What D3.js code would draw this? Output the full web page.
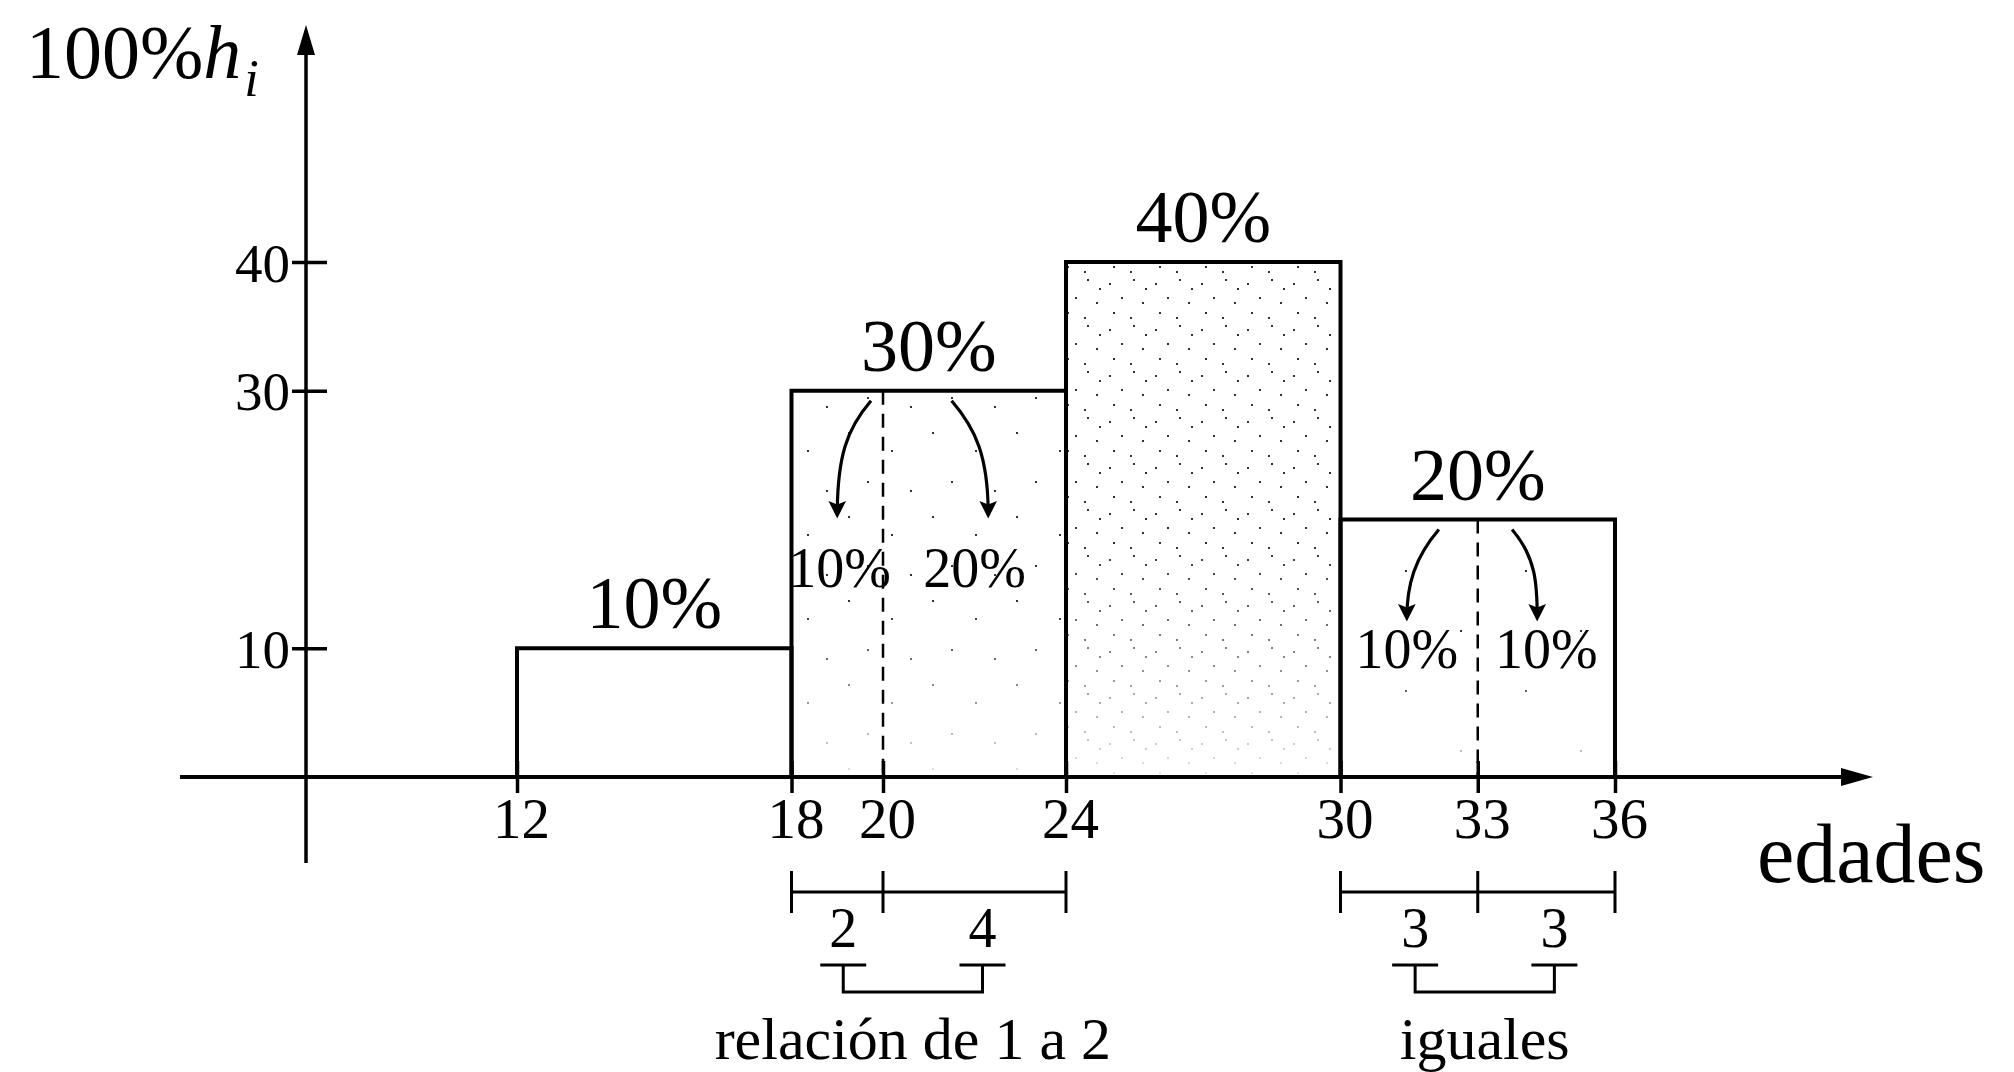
<!DOCTYPE html>
<html>
<head>
<meta charset="utf-8">
<script src="https://cdn.jsdelivr.net/npm/d3@7"></script>
<style>
  html, body { margin: 0; padding: 0; background: #fff; }
  svg { display: block; }
  text { font-family: 'Liberation Serif', 'Times New Roman', serif; fill: #000; }
</style>
</head>
<body>
<svg id="chart" width="2014" height="1072"></svg>
<script>
// ---------- data ----------
const classEdges   = [12, 18, 24, 30, 36];          // age class boundaries
const classPercent = [10, 30, 40, 20];              // 100% h_i for each class
const barLabels    = ["10%", "30%", "40%", "20%"];
const xTickValues  = [12, 18, 20, 24, 30, 33, 36];
const yTickValues  = [10, 30, 40];
const splitAt      = [20, 33];                      // dashed split points
const splitClass   = [1, 3];                        // which class is split
const splitLeftPct = ["10%", "10%"];
const splitRightPct= ["20%", "10%"];
const widthLabels  = [["2", "4"], ["3", "3"]];
const captions     = ["relación de 1 a 2", "iguales"];
const yTitle       = ["100%", "h", "i"];
const xTitle       = "edades";

// ---------- setup ----------
const svg = d3.select("#chart");
const x = d3.scaleLinear().domain([12, 36]).range([517, 1615]);
const y = d3.scaleLinear().domain([0, 40]).range([777, 262]);
const axisX = 306;     // pixel position of vertical axis (broken axis)
const axisY = y(0);

// stipple patterns (texture only)
const defs = svg.append("defs");
function stipple(id, size, dots) {
  const p = defs.append("pattern").attr("id", id).attr("patternUnits", "userSpaceOnUse")
    .attr("width", size).attr("height", size);
  dots.forEach(([cx, cy]) => p.append("rect").attr("x", cx).attr("y", cy)
    .attr("width", 2).attr("height", 2).attr("fill", "#333"));
}
stipple("dense", 46, [[5, 7], [29, 3], [17, 21], [38, 26], [9, 36], [26, 41], [41, 12]]);
stipple("sparse", 84, [[8, 12], [51, 30], [27, 61], [70, 70]]);
stipple("vsparse", 120, [[20, 30], [85, 90]]);
const fills = [null, "url(#sparse)", "url(#dense)", "url(#vsparse)"];

// fade mask so the dense stipple thins out toward the bottom
const grad = defs.append("linearGradient").attr("id", "fade").attr("x1", 0).attr("y1", 0).attr("x2", 0).attr("y2", 1);
grad.append("stop").attr("offset", "0%").attr("stop-color", "#fff");
grad.append("stop").attr("offset", "55%").attr("stop-color", "#fff");
grad.append("stop").attr("offset", "100%").attr("stop-color", "#222");
defs.append("mask").attr("id", "fadeMask").attr("maskContentUnits", "objectBoundingBox")
  .append("rect").attr("width", 1).attr("height", 1).attr("fill", "url(#fade)");

// arrow marker
defs.append("marker").attr("id", "arrowhead").attr("viewBox", "0 0 10 10")
  .attr("refX", 8).attr("refY", 5).attr("markerWidth", 7).attr("markerHeight", 5.5)
  .attr("markerUnits", "strokeWidth").attr("orient", "auto")
  .append("path").attr("d", "M0,0 L10,5 L0,10 L2,5 Z").attr("fill", "#000");

// ---------- bars ----------
const bars = classPercent.map((v, i) => ({ x0: classEdges[i], x1: classEdges[i + 1], v, label: barLabels[i], fill: fills[i] }));
const gb = svg.append("g");
gb.selectAll("rect.tex").data(bars.filter(d => d.fill)).join("rect").attr("class", "tex")
  .attr("x", d => x(d.x0)).attr("y", d => y(d.v))
  .attr("width", d => x(d.x1) - x(d.x0)).attr("height", d => y(0) - y(d.v))
  .attr("fill", d => d.fill).attr("mask", "url(#fadeMask)");
gb.selectAll("rect.bar").data(bars).join("rect").attr("class", "bar")
  .attr("x", d => x(d.x0)).attr("y", d => y(d.v))
  .attr("width", d => x(d.x1) - x(d.x0)).attr("height", d => y(0) - y(d.v))
  .attr("fill", "none").attr("stroke", "#000").attr("stroke-width", 4);

svg.append("g").selectAll("text").data(bars).join("text")
  .attr("x", d => x((d.x0 + d.x1) / 2))
  .attr("y", d => y(d.v) - 20)
  .attr("text-anchor", "middle").attr("font-size", 74)
  .text(d => d.label);

// ---------- dashed split lines ----------
svg.append("g").selectAll("line").data(splitAt).join("line")
  .attr("x1", d => x(d)).attr("x2", d => x(d))
  .attr("y1", (d, i) => y(classPercent[splitClass[i]])).attr("y2", axisY)
  .attr("stroke", "#000").attr("stroke-width", 2.5).attr("stroke-dasharray", "14 9");

// ---------- curved arrows & split labels ----------
const splitGeom = [
  { top: y(classPercent[1]), tip: 515, base: 587, lx: [x(19.05), x(22.0)], l: [x(19), x(22.3)], s: [x(20) - 12, x(21.5)] },
  { top: y(classPercent[3]), tip: 618, base: 668, lx: [x(31.45), x(34.5)], l: [x(31.45), x(34.3)], s: [x(32.15), x(33.75)] }
];
splitGeom.forEach((g, i) => {
  const ys = g.top + 10;
  svg.append("path")
    .attr("d", `M${g.s[0]},${ys} C${g.s[0] - 24},${ys + 28} ${g.l[0]},${ys + 55} ${g.l[0]},${g.tip}`)
    .attr("fill", "none").attr("stroke", "#000").attr("stroke-width", 3.2)
    .attr("marker-end", "url(#arrowhead)");
  svg.append("path")
    .attr("d", `M${g.s[1]},${ys} C${g.s[1] + 24},${ys + 28} ${g.l[1]},${ys + 55} ${g.l[1]},${g.tip}`)
    .attr("fill", "none").attr("stroke", "#000").attr("stroke-width", 3.2)
    .attr("marker-end", "url(#arrowhead)");
  svg.append("text").attr("x", g.lx[0]).attr("y", g.base).attr("text-anchor", "middle")
    .attr("font-size", 56).text(splitLeftPct[i]);
  svg.append("text").attr("x", g.lx[1]).attr("y", g.base).attr("text-anchor", "middle")
    .attr("font-size", 56).text(splitRightPct[i]);
});

// ---------- axes ----------
svg.append("line").attr("x1", 180).attr("x2", 1850).attr("y1", axisY).attr("y2", axisY)
  .attr("stroke", "#000").attr("stroke-width", 4);
svg.append("path").attr("d", `M1873,${axisY} L1841,${axisY - 9} L1841,${axisY + 9} Z`).attr("fill", "#000");
svg.append("line").attr("x1", axisX).attr("x2", axisX).attr("y1", 863).attr("y2", 45)
  .attr("stroke", "#000").attr("stroke-width", 3.5);
svg.append("path").attr("d", `M${axisX},25 L${axisX - 9},55 L${axisX + 9},55 Z`).attr("fill", "#000");

const gx = svg.append("g").attr("transform", `translate(0,${axisY})`)
  .call(d3.axisBottom(x).tickValues(xTickValues).tickSize(16).tickFormat(d3.format("d")));
gx.select(".domain").remove();
gx.selectAll(".tick line").attr("y1", -16).attr("y2", 16).attr("stroke", "#000").attr("stroke-width", 3.5);
gx.selectAll(".tick text").attr("font-family", "'Liberation Serif', serif").attr("font-size", 57)
  .attr("fill", "#000").attr("y", 61).attr("dy", 0).attr("dx", 4);

const gy = svg.append("g").attr("transform", `translate(${axisX},0)`)
  .call(d3.axisLeft(y).tickValues(yTickValues).tickSize(14).tickFormat(d3.format("d")));
gy.select(".domain").remove();
gy.selectAll(".tick line").attr("x1", -14).attr("x2", 21).attr("stroke", "#000").attr("stroke-width", 3.5);
gy.selectAll(".tick text").attr("font-family", "'Liberation Serif', serif").attr("font-size", 55)
  .attr("fill", "#000").attr("x", -16).attr("dy", 19);

// axis titles
const yt = svg.append("text").attr("x", 26).attr("y", 78).attr("font-size", 76);
yt.append("tspan").text(yTitle[0]);
yt.append("tspan").attr("font-style", "italic").text(yTitle[1]);
yt.append("tspan").attr("font-style", "italic").attr("font-size", 52).attr("dy", 18).attr("dx", 3).text(yTitle[2]);

svg.append("text").attr("x", 1757).attr("y", 882).attr("font-size", 84).text(xTitle);

// ---------- width brackets under the axis ----------
const brackets = [
  { a: 18, m: 20, b: 24, caption: captions[0], labels: widthLabels[0] },
  { a: 30, m: 33, b: 36, caption: captions[1], labels: widthLabels[1] }
];
const bY = 892, numY = 947, tY = 965, tB = 992;
brackets.forEach(br => {
  const g = svg.append("g").attr("stroke", "#000").attr("stroke-width", 3);
  g.append("line").attr("x1", x(br.a)).attr("x2", x(br.b)).attr("y1", bY).attr("y2", bY);
  [br.a, br.m, br.b].forEach(v => g.append("line").attr("x1", x(v)).attr("x2", x(v))
    .attr("y1", bY - 21).attr("y2", bY + 21));
  const c1 = x((br.a + br.m) / 2) + 6, c2 = x((br.m + br.b) / 2) + 8;
  svg.append("text").attr("x", c1).attr("y", numY).attr("text-anchor", "middle").attr("font-size", 56).text(br.labels[0]);
  svg.append("text").attr("x", c2).attr("y", numY).attr("text-anchor", "middle").attr("font-size", 56).text(br.labels[1]);
  [c1, c2].forEach(c => g.append("line").attr("x1", c - 23).attr("x2", c + 23).attr("y1", tY).attr("y2", tY));
  g.append("path").attr("d", `M${c1},${tY} L${c1},${tB} L${c2},${tB} L${c2},${tY}`).attr("fill", "none");
  svg.append("text").attr("x", (c1 + c2) / 2).attr("y", 1059).attr("text-anchor", "middle")
    .attr("font-size", 60).text(br.caption);
});
</script>
</body>
</html>
